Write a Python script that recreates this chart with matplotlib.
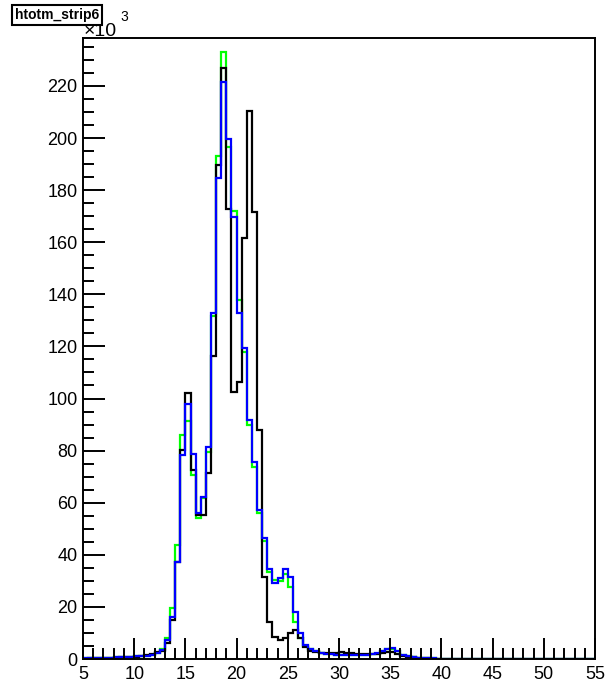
import numpy as np
import matplotlib
matplotlib.use("Agg")
import matplotlib.pyplot as plt
from matplotlib.ticker import MultipleLocator

plt.rcParams['font.family'] = ['Liberation Sans', 'DejaVu Sans']

# bin edges: 100 bins of 0.5 from 5 to 55
edges = np.arange(5.0, 55.01, 0.5)

# counts in thousands, one entry per bin (5.0-5.5, 5.5-6.0, ...)
black = [0.1, 0.2, 0.2, 0.3, 0.4, 0.4, 0.5, 0.6, 0.7, 0.8,
         0.9, 1.0, 1.6, 2.0, 2.5, 3.2, 6.0, 15.0, 37.3, 80.2,
         102.2, 72.5, 55.3, 55.3, 71.3, 116.3, 189.6, 226.7, 172.7, 102.6,
         106.5, 161.8, 210.5, 171.7, 87.9, 31.6, 14.3, 8.6, 7.3, 7.9,
         9.8, 11.1, 8.0, 4.5, 3.0, 2.6, 2.4, 2.3, 2.3, 2.4,
         2.6, 2.4, 2.2, 2.0, 1.8, 1.8, 1.8, 2.0, 2.3, 2.5,
         2.5, 2.0, 1.3, 0.9, 0.6, 0.4, 0.3, 0.2, 0.1, 0.1,
         0, 0, 0, 0, 0, 0, 0, 0, 0, 0,
         0, 0, 0, 0, 0, 0, 0, 0, 0, 0,
         0, 0, 0, 0, 0, 0, 0, 0, 0, 0]

green = [0.2, 0.3, 0.3, 0.4, 0.5, 0.5, 0.6, 0.7, 0.8, 0.9,
         1.0, 1.1, 1.3, 1.5, 2.3, 4.0, 7.9, 19.5, 43.8, 86.0,
         91.5, 70.6, 54.0, 61.7, 79.6, 131.7, 193.0, 232.9, 196.7, 172.0,
         137.8, 118.0, 89.8, 73.8, 55.9, 45.4, 33.5, 30.5, 30.0, 32.5,
         27.8, 14.3, 7.9, 5.0, 3.8, 2.9, 2.3, 2.0, 1.8, 1.7,
         1.6, 1.6, 1.5, 1.5, 1.5, 1.6, 1.8, 2.1, 2.9, 3.8,
         4.0, 2.9, 1.5, 1.0, 0.7, 0.5, 0.4, 0.3, 0.2, 0.1,
         0, 0, 0, 0, 0, 0, 0, 0, 0, 0,
         0, 0, 0, 0, 0, 0, 0, 0, 0, 0,
         0, 0, 0, 0, 0, 0, 0, 0, 0, 0]

blue = [0.2, 0.3, 0.3, 0.4, 0.5, 0.5, 0.6, 0.7, 0.8, 0.9,
        1.0, 1.1, 1.3, 1.5, 2.2, 3.5, 7.3, 16.2, 37.3, 78.3,
        97.9, 78.7, 55.9, 62.3, 81.5, 132.7, 184.5, 221.4, 199.6, 169.8,
        132.7, 119.3, 91.7, 75.7, 57.2, 46.3, 34.5, 29.1, 31.0, 34.5,
        31.6, 18.2, 9.8, 5.4, 4.0, 3.0, 2.4, 2.0, 1.8, 1.7,
        1.6, 1.6, 1.5, 1.5, 1.5, 1.6, 1.8, 2.2, 3.0, 4.0,
        4.2, 3.0, 1.6, 1.0, 0.7, 0.5, 0.4, 0.3, 0.2, 0.1,
        0, 0, 0, 0, 0, 0, 0, 0, 0, 0,
        0, 0, 0, 0, 0, 0, 0, 0, 0, 0,
        0, 0, 0, 0, 0, 0, 0, 0, 0, 0]

title = 'htotm_strip6'

W, H = 609, 689
fig = plt.figure(figsize=(W / 100, H / 100), dpi=100)
ax = fig.add_axes([83 / W, 1 - 659 / H, (595 - 83) / W, (659 - 38) / H])

ax.stairs(green, edges, color='#00ff00', lw=1.6)
ax.stairs(black, edges, color='black', lw=1.6)
ax.stairs(blue, edges, color='#0000ff', lw=1.6)

ax.set_xlim(5, 55)
ax.set_ylim(0, 238.4)

ax.xaxis.set_major_locator(MultipleLocator(5))
ax.xaxis.set_minor_locator(MultipleLocator(1))
ax.yaxis.set_major_locator(MultipleLocator(20))
ax.yaxis.set_minor_locator(MultipleLocator(5))
ax.tick_params(which='both', direction='in', top=False, right=False,
               width=1.4, labelsize=13)
ax.tick_params(axis='x', which='major', length=15, pad=5)
ax.tick_params(axis='x', which='minor', length=8)
ax.tick_params(axis='y', which='major', length=16, pad=4)
ax.tick_params(axis='y', which='minor', length=8)
for s in ax.spines.values():
    s.set_linewidth(1.4)

# exponent label like ROOT
fig.text(84 / W, 1 - 36 / H, '\u00d710', fontsize=14, va='baseline', ha='left')
fig.text(120 / W, 1 - 21 / H, '3', fontsize=10, va='baseline', ha='left')

# title pave
fig.text(15 / W, 1 - 19 / H, title, fontsize=10, fontweight='bold',
         va='baseline', ha='left',
         bbox=dict(boxstyle='square,pad=0.2', fc='white', ec='black', lw=1.5))

fig.savefig('out.png', dpi=100)
